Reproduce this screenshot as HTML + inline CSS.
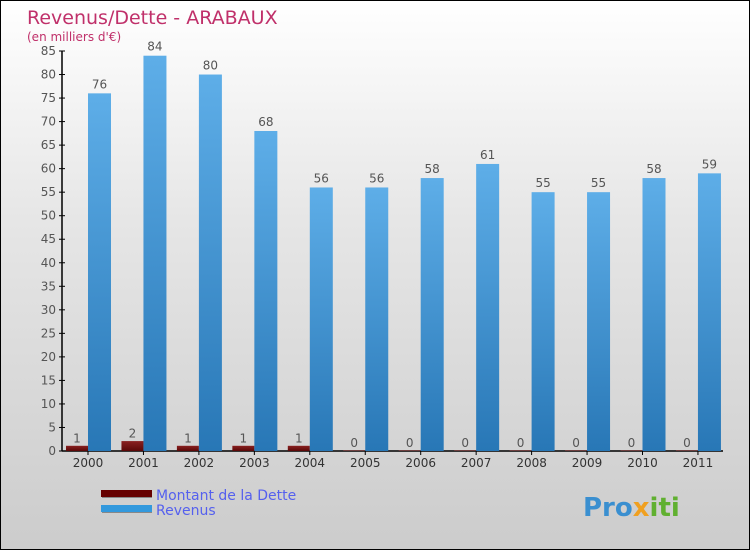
<!DOCTYPE html>
<html><head><meta charset="utf-8"><style>
body{margin:0;}
#c{width:748px;height:548px;border:1px solid #000;background:linear-gradient(#fff,#e6e6e6 40%,#ccc);position:relative;overflow:hidden;font-family:"DejaVu Sans","Liberation Sans",sans-serif;}
</style></head><body>
<div id="c">
<svg width="748" height="548" xmlns="http://www.w3.org/2000/svg">
<defs>
<linearGradient id="gb" x1="0" y1="0" x2="0" y2="1"><stop offset="0" stop-color="#5eaee8"/><stop offset="1" stop-color="#2877b6"/></linearGradient>
<linearGradient id="gr" x1="0" y1="0" x2="0" y2="1"><stop offset="0" stop-color="#8a2020"/><stop offset="1" stop-color="#5a0808"/></linearGradient>
</defs>
<text x="26" y="23" font-size="19" fill="#c0306a">Revenus/Dette - ARABAUX</text>
<text x="26" y="40" font-size="12" fill="#c0306a">(en milliers d'€)</text>
<g id="axes"></g><g id="bars"></g>
<g>
<rect x="101" y="490" width="50" height="7" fill="#888"/><rect x="100" y="489" width="51" height="7" fill="#660000"/>
<text x="155" y="499" font-size="14" fill="#5560ee">Montant de la Dette</text>
<rect x="101" y="505" width="50" height="7" fill="#888"/><rect x="100" y="504" width="51" height="7" fill="#3399dd"/>
<text x="155" y="514" font-size="14" fill="#5560ee">Revenus</text>
</g>
<text x="582" y="515" font-size="26" font-weight="bold"><tspan fill="#3a8fd0">Pro</tspan><tspan fill="#f0a020">x</tspan><tspan fill="#60b030">iti</tspan></text>
</svg>
</div>
<script>
const years=["2000","2001","2002","2003","2004","2005","2006","2007","2008","2009","2010","2011"];
const dette=[1,2,1,1,1,0,0,0,0,0,0,0];
const revenus=[76,84,80,68,56,56,58,61,55,55,58,59];
const yTicks=[0,5,10,15,20,25,30,35,40,45,50,55,60,65,70,75,80,85];
const NS="http://www.w3.org/2000/svg";
function y(v){return 450-v*400/85;}
function x(i){return 87+i*55.45;}
function mk(t,a,p){const e=document.createElementNS(NS,t);for(const k in a)e.setAttribute(k,a[k]);p.appendChild(e);return e;}
const ax=document.getElementById('axes'),bg=document.getElementById('bars');
const yl=mk('line',{x1:61,y1:y(85),x2:61,y2:450,stroke:'#000','stroke-width':1.5},ax);


const xl=mk('line',{x1:61,y1:450,x2:722,y2:450,stroke:'#000','stroke-width':1.5},ax);


yTicks.forEach(v=>{
 mk('line',{x1:58,x2:64,y1:y(v),y2:y(v),stroke:'#000'},ax);
 const t=mk('text',{x:55,y:y(v)+4,'text-anchor':'end','font-size':12,fill:'#555'},ax);t.textContent=v;
 
 
});
years.forEach((yr,i)=>{
 const cx=x(i);
 mk('line',{x1:cx,x2:cx,y1:450,y2:454,stroke:'#000'},ax);
 const t=mk('text',{x:cx,y:466,'text-anchor':'middle','font-size':12,fill:'#333'},ax);t.textContent=yr;
 
 
 const d=mk('rect',{x:cx-22,y:y(dette[i])-0.5,width:22,height:450-y(dette[i])+0.5,fill:'url(#gr)'},bg);
 
 
 const dl=mk('text',{x:cx-11,y:y(dette[i])-4,'text-anchor':'middle','font-size':12,fill:'#555'},bg);dl.textContent=dette[i];
 
 
 const r=mk('rect',{x:cx,y:y(revenus[i]),width:23,height:450-y(revenus[i]),fill:'url(#gb)'},bg);
 
 
 const rl=mk('text',{x:cx+11.5,y:y(revenus[i])-5,'text-anchor':'middle','font-size':12,fill:'#555'},bg);rl.textContent=revenus[i];
 
 
});
</script>
</body></html>
